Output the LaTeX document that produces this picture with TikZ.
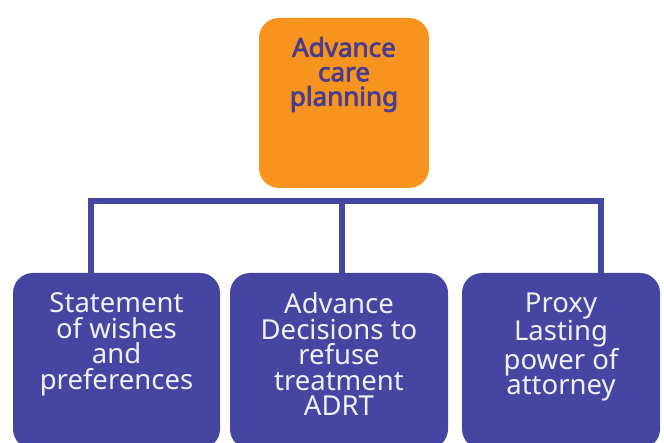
\documentclass[tikz,border=0pt]{standalone}
\usepackage{fontspec}
\setmainfont{Noto Sans}
\newfontfamily\acpboldfont{Noto Sans}[FakeBold=2.8]
\usetikzlibrary{positioning}
\definecolor{acporange}{HTML}{F7941E}
\definecolor{acpblue}{HTML}{4545A2}
\definecolor{acptext}{HTML}{4A3C8E}
\definecolor{boxtext}{HTML}{F0F0FA}
\tikzset{
  topbox/.style={rectangle, rounded corners=20pt, fill=acporange,
    minimum width=170pt, minimum height=170pt},
  optbox/.style={rectangle, rounded corners=20pt, fill=acpblue, minimum height=176pt},
  toptext/.style={align=center, inner sep=0pt, text=acptext,
    font=\acpboldfont\fontsize{26}{24.5}\selectfont},
  opttext/.style={align=center, inner sep=0pt, text=boxtext,
    font=\fontsize{27.5}{25.5}\selectfont},
  bus/.style={draw=acpblue, line width=6.5pt}
}
\begin{document}
\begin{tikzpicture}[x=1pt, y=-1pt]
  \useasboundingbox (0,0) rectangle (664,443);
  \clip (0,0) rectangle (664,443);
  % top box
  \node[topbox] (acp) at (344,103) {};
  \node[toptext, below=19pt of acp.north] (acpt) {Advance\\care\\planning};
  % the three options
  \node[optbox, minimum width=207pt] (stmt) at (116.5,361) {};
  \node[optbox, minimum width=218pt] (adrt) at (339,361) {};
  \node[optbox, minimum width=198pt] (proxy) at (561,361) {};
  \node[opttext, below=20pt of stmt.north] (stmtt) {Statement\\of wishes\\and\\preferences};
  \node[opttext, below=20pt of adrt.north] (adrtt) {Advance\\Decisions to\\refuse\\treatment\\ADRT};
  \node[opttext, below=20pt of proxy.north] (proxyt) {Proxy\\Lasting\\power of\\attorney};
  % connectors
  \coordinate (bus) at (342,201);
  \draw[bus] ([xshift=-25.5pt]stmt.north) |- (bus) -| ([xshift=40pt]proxy.north);
  \draw[bus] (bus) -- (bus |- adrt.north);
\end{tikzpicture}
\end{document}
